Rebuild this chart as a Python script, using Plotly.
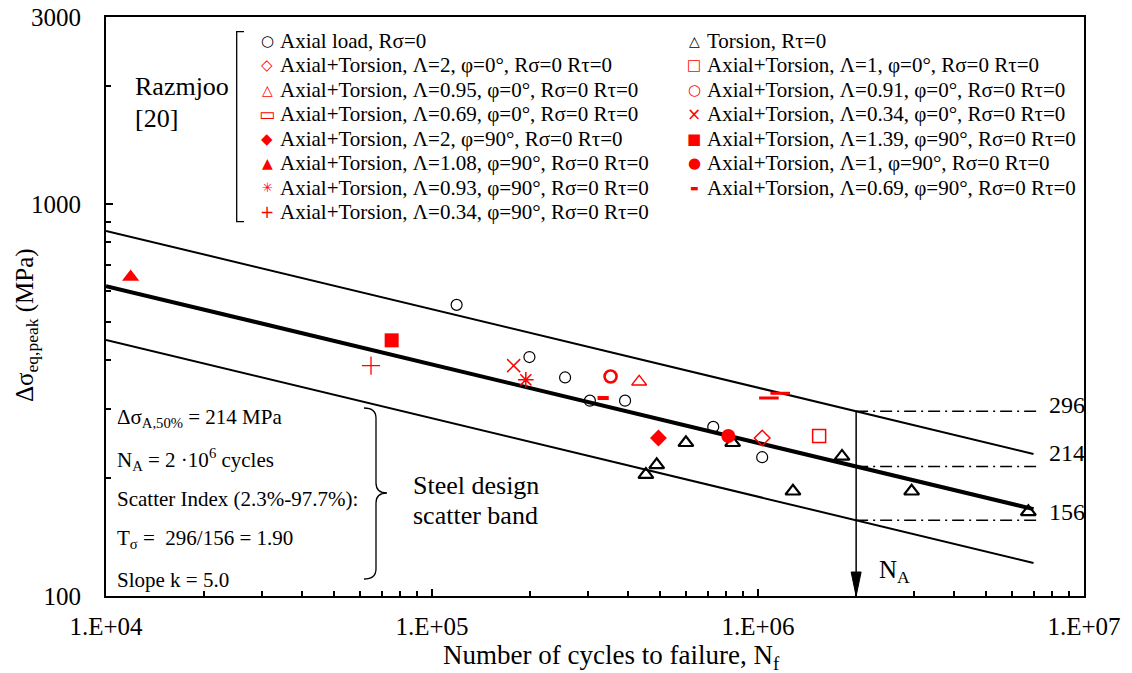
import math
import plotly.graph_objects as go

# ---------------- data ----------------
axial_N = [1.19e5, 1.99e5, 2.56e5, 3.05e5, 3.91e5, 7.29e5, 1.03e6]
axial_S = [553, 407, 361, 315, 315, 270, 226]

torsion_N = [4.53e5, 4.89e5, 6.01e5, 8.36e5, 1.28e6, 1.81e6, 2.96e6, 6.75e6]
torsion_S = [204, 216, 246, 246, 185, 227, 185, 164]

at_l2_p0_N = [1.03e6]
at_l2_p0_S = [253]
at_l095_p0_N = [4.32e5]
at_l095_p0_S = [352]
at_l069_p0_N = [1.08e6, 1.17e6]
at_l069_p0_S = [320, 329]
at_l2_p90_N = [4.95e5]
at_l2_p90_S = [253]
at_l108_p90_N = [1.19e4]
at_l108_p90_S = [651]
at_l093_p90_N = [1.94e5]
at_l093_p90_S = [356]
at_l034_p90_N = [6.5e4]
at_l034_p90_S = [387]
at_l1_p0_N = [1.54e6]
at_l1_p0_S = [256]
at_l091_p0_N = [3.53e5]
at_l091_p0_S = [363]
at_l034_p0_N = [1.78e5]
at_l034_p0_S = [387]
at_l139_p90_N = [7.52e4]
at_l139_p90_S = [449]
at_l1_p90_N = [8.11e5]
at_l1_p90_S = [256]
at_l069_p90_N = [3.35e5]
at_l069_p90_S = [320]

# design scatter band (values printed on the chart)
N_A = 2e6
slope_k = 5.0
band_levels = [296, 214, 156]        # 2.3 %, 50 %, 97.7 %
band_N = [1.0e4, 7.0e6]
dashdot_N = [2.0e6, 7.2e6]

x_tick_vals = [1e4, 1e5, 1e6, 1e7]
x_tick_text = ["1.E+04", "1.E+05", "1.E+06", "1.E+07"]
x_minor_vals = [m * 10 ** e for e in (4, 5, 6) for m in range(2, 10)]
y_tick_vals = [100, 1000, 3000]
y_tick_text = ["100", "1000", "3000"]
y_minor_vals = [200, 300, 400, 500, 600, 700, 800, 900, 2000]

legend_col1 = [
    "Axial load, Rσ=0",
    "Axial+Torsion, Λ=2, φ=0°, Rσ=0 Rτ=0",
    "Axial+Torsion, Λ=0.95, φ=0°, Rσ=0 Rτ=0",
    "Axial+Torsion, Λ=0.69, φ=0°, Rσ=0 Rτ=0",
    "Axial+Torsion, Λ=2, φ=90°, Rσ=0 Rτ=0",
    "Axial+Torsion, Λ=1.08, φ=90°, Rσ=0 Rτ=0",
    "Axial+Torsion, Λ=0.93, φ=90°, Rσ=0 Rτ=0",
    "Axial+Torsion, Λ=0.34, φ=90°, Rσ=0 Rτ=0",
]
legend_col2 = [
    "Torsion, Rτ=0",
    "Axial+Torsion, Λ=1, φ=0°, Rσ=0 Rτ=0",
    "Axial+Torsion, Λ=0.91, φ=0°, Rσ=0 Rτ=0",
    "Axial+Torsion, Λ=0.34, φ=0°, Rσ=0 Rτ=0",
    "Axial+Torsion, Λ=1.39, φ=90°, Rσ=0 Rτ=0",
    "Axial+Torsion, Λ=1, φ=90°, Rσ=0 Rτ=0",
    "Axial+Torsion, Λ=0.69, φ=90°, Rσ=0 Rτ=0",
]

# ---------------- layout helpers ----------------
FIG_W, FIG_H = 1132, 673
ML, MR, MT, MB = 106, 48, 17, 77
PW = FIG_W - ML - MR
PH = FIG_H - MT - MB


def pxx(p):
    return (p - ML) / PW


def pxy(p):
    return (FIG_H - MB - p) / PH


SERIF = "Liberation Serif, Times New Roman, serif"
SYMF = "DejaVu Sans, sans-serif"
RED = "#FF0000"
BLK = "#000000"

fig = go.Figure()

# scatter band lines
for lvl, w in zip(band_levels, [2, 4, 2]):
    fig.add_trace(go.Scatter(
        x=band_N, y=[lvl * (N_A / n) ** (1 / slope_k) for n in band_N],
        mode="lines", line=dict(color=BLK, width=w), showlegend=False,
        hoverinfo="skip"))
for lvl in band_levels:
    fig.add_trace(go.Scatter(
        x=dashdot_N, y=[lvl, lvl], mode="lines",
        line=dict(color=BLK, width=1.5, dash="12px,5px,2px,5px"),
        showlegend=False, hoverinfo="skip"))
# N_A arrow shaft
fig.add_trace(go.Scatter(
    x=[N_A, N_A], y=[band_levels[0], 112], mode="lines",
    line=dict(color=BLK, width=1.5), showlegend=False, hoverinfo="skip"))

series = [
    (axial_N, axial_S, "circle-open", 11, BLK, 1.2),
    (torsion_N, torsion_S, "triangle-up-open", 13, BLK, 2.2),
    (at_l2_p0_N, at_l2_p0_S, "diamond-open", 12, RED, 1.5),
    (at_l095_p0_N, at_l095_p0_S, "triangle-up-open", 13, RED, 1.3),
    (at_l069_p0_N, at_l069_p0_S, "line-ew-open", 14, RED, 3),
    (at_l2_p90_N, at_l2_p90_S, "diamond", 13, RED, 0),
    (at_l108_p90_N, at_l108_p90_S, "triangle-up", 15, RED, 0),
    (at_l093_p90_N, at_l093_p90_S, "asterisk-open", 13, RED, 1.5),
    (at_l034_p90_N, at_l034_p90_S, "cross-thin-open", 13, RED, 1.3),
    (at_l1_p0_N, at_l1_p0_S, "square-open", 13, RED, 1.5),
    (at_l091_p0_N, at_l091_p0_S, "circle-open", 12, RED, 2.6),
    (at_l034_p0_N, at_l034_p0_S, "x-thin-open", 13, RED, 1.5),
    (at_l139_p90_N, at_l139_p90_S, "square", 14, RED, 0),
    (at_l1_p90_N, at_l1_p90_S, "circle", 14, RED, 0),
    (at_l069_p90_N, at_l069_p90_S, "line-ew-open", 8, RED, 4),
]
for xs, ys, sym, size, col, lw in series:
    if sym.endswith("-open"):
        marker = dict(symbol=sym, size=size, color=col, line=dict(color=col, width=lw))
    else:
        marker = dict(symbol=sym, size=size, color=col, line=dict(width=0))
    fig.add_trace(go.Scatter(x=xs, y=ys, mode="markers", marker=marker,
                             showlegend=False, cliponaxis=False))

ann = []

# legend (text + symbol glyphs)
glyphs1 = [("○", BLK, 15, False), ("◇", RED, 15, False), ("△", RED, 14, False),
           ("▭", RED, 17, False), ("◆", RED, 15, False), ("▲", RED, 14, False),
           ("✳", RED, 13, False), ("+", RED, 17, False)]
glyphs2 = [("△", BLK, 14, True), ("□", RED, 15, False), ("○", RED, 15, True),
           ("×", RED, 17, False), ("■", RED, 15, False), ("●", RED, 15, False),
           ("▬", RED, 9, False)]
row_y = [40.7 + 24.5 * i for i in range(8)]
for col_labels, col_glyphs, gx, tx in [(legend_col1, glyphs1, 267, 278),
                                       (legend_col2, glyphs2, 694, 705)]:
    for i, (lab, (g, c, fs, bold)) in enumerate(zip(col_labels, col_glyphs)):
        ann.append(dict(x=pxx(tx), y=pxy(row_y[i]), xref="paper", yref="paper",
                        text=lab, showarrow=False, xanchor="left", yanchor="middle",
                        font=dict(family=SERIF, size=21, color=BLK)))
        ann.append(dict(x=pxx(gx), y=pxy(row_y[i]), xref="paper", yref="paper",
                        text=("<b>%s</b>" % g) if bold else g, showarrow=False,
                        xanchor="center", yanchor="middle",
                        font=dict(family=SYMF, size=fs, color=c)))

# Razmjoo [20]
ann.append(dict(x=pxx(133), y=pxy(87), xref="paper", yref="paper", text="Razmjoo",
                showarrow=False, xanchor="left", yanchor="middle",
                font=dict(family=SERIF, size=26, color=BLK)))
ann.append(dict(x=pxx(133), y=pxy(118), xref="paper", yref="paper", text="[20]",
                showarrow=False, xanchor="left", yanchor="middle",
                font=dict(family=SERIF, size=26, color=BLK)))

# left info block
info_lines = ["Δσ<sub>A,50%</sub> = 214 MPa",
              "N<sub>A</sub> = 2 ·10<sup>6</sup> cycles",
              "Scatter Index (2.3%-97.7%):",
              "T<sub>σ</sub> =  296/156 = 1.90",
              "Slope k = 5.0"]
for t, yy in zip(info_lines, [418, 459, 499, 539, 580]):
    ann.append(dict(x=pxx(115), y=pxy(yy), xref="paper", yref="paper", text=t,
                    showarrow=False, xanchor="left", yanchor="middle",
                    font=dict(family=SERIF, size=21, color=BLK)))

for t, yy in zip(["Steel design", "scatter band"], [485, 515]):
    ann.append(dict(x=pxx(411), y=pxy(yy), xref="paper", yref="paper", text=t,
                    showarrow=False, xanchor="left", yanchor="middle",
                    font=dict(family=SERIF, size=26, color=BLK)))

# band level labels
for lvl, yy in zip(band_levels, [405, 453, 512]):
    ann.append(dict(x=pxx(1047), y=pxy(yy), xref="paper", yref="paper", text=str(lvl),
                    showarrow=False, xanchor="left", yanchor="middle",
                    font=dict(family=SERIF, size=24, color=BLK)))

# N_A label
ann.append(dict(x=pxx(877), y=pxy(571), xref="paper", yref="paper", text="N<sub>A</sub>",
                showarrow=False, xanchor="left", yanchor="middle",
                font=dict(family=SERIF, size=25, color=BLK)))

# axis titles
ann.append(dict(x=pxx(611), y=pxy(657), xref="paper", yref="paper",
                text="Number of cycles to failure, N<sub>f</sub>", showarrow=False,
                xanchor="center", yanchor="middle",
                font=dict(family=SERIF, size=27, color=BLK)))
ann.append(dict(x=pxx(26), y=pxy(325), xref="paper", yref="paper",
                text="Δσ<sub>eq,peak</sub> (MPa)", showarrow=False, textangle=-90,
                xanchor="center", yanchor="middle",
                font=dict(family=SERIF, size=25, color=BLK)))


def path_from(points):
    d = ""
    for cmd, pts in points:
        d += cmd + " " + " ".join("%.5f,%.5f" % (pxx(a), pxy(b)) for a, b in pts) + " "
    return d.strip()


arrow_x = (math.log10(N_A) - 4) / 3   # paper position of N_A on the log axis
shapes = [
    # left bracket of legend
    dict(type="path", xref="paper", yref="paper",
         path=path_from([("M", [(244, 31.7)]), ("L", [(236.7, 31.7)]),
                         ("L", [(236.7, 221.7)]), ("L", [(244, 221.7)])]),
         line=dict(color=BLK, width=1.3)),
    # right brace of info block
    dict(type="path", xref="paper", yref="paper",
         path=path_from([("M", [(364, 408)]), ("Q", [(376, 408), (376, 418)]),
                         ("L", [(376, 483)]), ("Q", [(376, 493), (387, 493)]),
                         ("Q", [(376, 493), (376, 503)]), ("L", [(376, 569)]),
                         ("Q", [(376, 579), (364, 579)])]),
         line=dict(color=BLK, width=1.3)),
    # arrow head at N_A
    dict(type="path", xref="paper", yref="paper",
         path="M %.5f,%.5f L %.5f,%.5f L %.5f,%.5f Z" % (
             arrow_x - 5 / PW, 24 / PH, arrow_x + 5 / PW, 24 / PH, arrow_x, 0.0),
         fillcolor=BLK, line=dict(color=BLK, width=1)),
]

axis_common = dict(type="log", showgrid=False, zeroline=False, showline=True,
                   linecolor=BLK, linewidth=2, mirror=True, ticks="inside",
                   ticklen=7, tickwidth=1.5, tickcolor=BLK, automargin=False,
                   tickfont=dict(family=SERIF, size=25, color=BLK))

fig.update_layout(
    width=FIG_W, height=FIG_H,
    margin=dict(l=ML, r=MR, t=MT, b=MB, autoexpand=False),
    paper_bgcolor="white", plot_bgcolor="white",
    showlegend=False,
    xaxis=dict(range=[4, 7], tickmode="array", tickvals=x_tick_vals,
               ticktext=x_tick_text, ticklabelstandoff=7,
               minor=dict(tickmode="array", tickvals=x_minor_vals, ticks="inside",
                          ticklen=5, tickwidth=1.5, tickcolor=BLK),
               **axis_common),
    yaxis=dict(range=[2, math.log10(3000)], tickmode="array", tickvals=y_tick_vals,
               ticktext=y_tick_text, ticklabelstandoff=18,
               minor=dict(tickmode="array", tickvals=y_minor_vals, ticks="inside",
                          ticklen=5, tickwidth=1.5, tickcolor=BLK),
               **axis_common),
    annotations=ann,
    shapes=shapes,
)

fig.write_html("out.html", config={"displayModeBar": False},
               post_script="document.body.style.margin='0';"
                           "document.body.style.overflow='hidden';")
